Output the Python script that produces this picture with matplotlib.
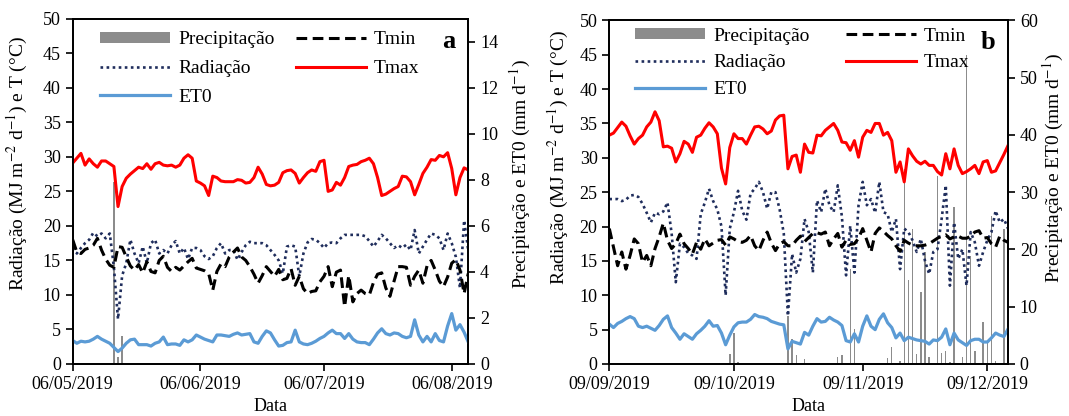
import matplotlib
matplotlib.use("Agg")
import matplotlib.pyplot as plt
import matplotlib.dates as mdates
import pandas as pd

plt.rcParams['font.family'] = ['Liberation Serif', 'DejaVu Serif']
plt.rcParams['mathtext.fontset'] = 'stix'

# ---- painel a: 06/05/2019 a 10/08/2019 ----
tmax_a = [29.1, 29.8, 30.5, 28.8, 29.7, 29.0, 28.5, 29.4, 29.4, 29.0, 28.6, 22.8, 25.7, 26.9, 27.5, 28.0,
          28.5, 28.3, 29.0, 28.2, 29.0, 29.2, 28.8, 28.7, 28.8, 28.5, 28.8, 29.8, 30.3, 29.8, 26.5, 26.2,
          25.8, 24.4, 27.2, 27.0, 26.5, 26.4, 26.4, 26.4, 26.7, 26.6, 26.2, 26.3, 27.0, 28.5, 27.5, 26.0,
          25.8, 25.9, 26.3, 27.7, 28.0, 28.1, 27.6, 26.2, 27.0, 27.7, 28.1, 27.9, 29.3, 29.5, 25.0, 25.2,
          26.3, 25.9, 27.0, 28.6, 28.8, 28.9, 29.3, 29.5, 29.8, 29.0, 27.0, 24.4, 24.6, 25.0, 25.4, 25.7,
          27.2, 27.1, 26.4, 24.5, 26.0, 27.6, 28.5, 29.6, 29.5, 30.2, 30.0, 30.6, 28.3, 24.5, 27.0, 28.4, 28.1]
tmin_a = [18.0, 16.2, 16.0, 16.6, 16.8, 17.2, 18.2, 16.5, 15.2, 14.3, 14.0, 17.0, 16.9, 15.5, 14.2, 13.6,
          14.4, 13.2, 14.8, 13.4, 13.2, 15.0, 15.6, 14.0, 13.4, 14.0, 13.6, 14.2, 14.8, 15.3, 13.9, 13.7,
          13.5, 13.1, 10.7, 13.4, 14.5, 14.1, 15.5, 16.2, 16.8, 15.5, 15.0, 14.1, 13.0, 11.7, 12.8, 14.1,
          13.4, 12.7, 13.7, 12.2, 12.4, 13.8, 11.4, 12.7, 10.9, 10.2, 10.5, 10.6, 11.9, 12.7, 14.1, 11.2,
          13.3, 13.6, 8.3, 12.8, 9.0, 10.2, 10.7, 10.2, 10.0, 11.8, 13.0, 13.2, 11.0, 9.8, 12.0, 14.1,
          14.1, 14.0, 11.4, 12.7, 13.6, 11.7, 14.2, 15.0, 13.6, 12.0, 11.2, 12.6, 14.6, 15.1, 13.6, 10.2, 13.1]
rad_a = [17.8, 16.0, 16.8, 17.5, 18.0, 19.0, 18.5, 18.9, 18.2, 18.9, 14.0, 6.5, 12.8, 14.6, 18.0, 16.0,
         14.6, 17.0, 14.6, 17.5, 18.0, 16.0, 16.5, 16.0, 17.2, 17.8, 16.0, 16.8, 15.2, 16.8, 16.8, 16.5,
         15.6, 15.2, 15.6, 16.8, 17.5, 16.0, 16.5, 16.5, 15.1, 16.2, 17.2, 17.7, 17.5, 17.5, 17.5, 17.2,
         16.5, 15.8, 15.0, 13.1, 17.0, 17.2, 17.0, 12.7, 16.0, 17.6, 18.1, 18.0, 17.5, 16.8, 17.5, 17.6,
         17.5, 18.2, 18.7, 18.7, 18.7, 18.7, 18.7, 18.5, 17.8, 17.0, 17.8, 18.7, 18.2, 17.5, 16.8, 17.2,
         16.8, 17.3, 16.5, 19.4, 16.0, 17.0, 18.0, 18.9, 18.7, 18.2, 16.5, 18.9, 17.5, 15.5, 11.0, 20.8, 16.5]
et0_a = [3.4, 3.0, 3.3, 3.2, 3.3, 3.6, 4.0, 3.6, 3.3, 3.0, 2.4, 1.8, 2.3, 3.0, 3.5, 3.6,
         2.8, 2.8, 2.8, 2.6, 3.0, 3.2, 3.9, 2.8, 2.9, 2.9, 2.7, 3.5, 3.2, 3.5, 4.2, 3.9,
         3.6, 3.4, 3.2, 4.2, 4.2, 4.1, 4.0, 4.3, 4.5, 4.2, 4.3, 4.4, 3.2, 3.0, 4.0, 4.8,
         4.5, 3.5, 2.6, 2.7, 3.1, 3.2, 4.9, 3.2, 2.9, 2.8, 3.0, 3.3, 3.7, 4.0, 4.5, 4.9,
         4.4, 4.4, 3.7, 4.4, 3.6, 3.2, 3.1, 3.1, 2.8, 3.6, 4.5, 5.1, 4.4, 4.2, 4.5, 4.4,
         4.0, 3.8, 4.0, 6.4, 4.2, 3.2, 4.0, 3.2, 4.4, 3.4, 3.2, 5.5, 7.3, 4.9, 5.7, 4.6, 3.2]
chuva_a_datas = ['2019-05-16', '2019-05-17', '2019-05-18']
chuva_a_mm = [7.9, 0.3, 1.2]

# ---- painel b: 09/09/2019 a 14/12/2019 ----
tmax_b = [33.3, 33.6, 34.4, 35.2, 34.6, 33.2, 32.0, 32.8, 33.3, 34.5, 35.2, 36.7, 35.4, 31.6, 31.7, 31.4,
          29.4, 30.6, 32.4, 32.0, 30.8, 33.0, 33.3, 34.3, 35.1, 34.5, 33.5, 28.5, 26.2, 31.5, 33.5, 32.8,
          32.8, 32.0, 33.3, 34.5, 34.6, 34.2, 33.5, 33.9, 35.5, 36.1, 36.2, 28.4, 30.2, 30.4, 27.9, 32.0,
          30.8, 30.7, 33.3, 33.2, 34.0, 34.5, 35.0, 34.0, 32.3, 32.2, 31.1, 32.5, 30.1, 33.0, 34.0, 33.7,
          35.0, 35.0, 33.3, 33.7, 32.5, 27.9, 29.4, 26.5, 31.3, 30.3, 29.5, 29.1, 29.5, 28.9, 28.9, 28.0,
          27.5, 30.6, 28.4, 31.3, 28.9, 27.7, 28.0, 28.4, 28.9, 27.7, 29.4, 29.6, 27.9, 28.1, 29.3, 30.5, 31.8]
tmin_b = [19.7, 17.0, 14.3, 16.3, 13.8, 15.8, 18.2, 17.5, 14.8, 15.8, 14.3, 16.8, 18.5, 20.5, 18.0, 16.8,
          17.5, 18.9, 17.5, 16.8, 16.0, 17.7, 16.7, 18.2, 17.2, 17.6, 18.0, 18.1, 17.3, 18.5, 18.2, 17.8,
          17.7, 18.0, 18.7, 17.2, 16.5, 18.0, 19.2, 17.6, 16.5, 17.5, 17.8, 17.2, 17.2, 18.0, 18.6, 17.8,
          18.4, 19.0, 19.1, 18.9, 19.2, 17.2, 18.2, 19.0, 17.0, 18.0, 17.4, 17.5, 18.3, 19.7, 18.0, 16.3,
          19.0, 19.8, 19.3, 18.7, 18.2, 17.2, 16.4, 18.0, 17.6, 17.3, 17.2, 17.2, 17.3, 17.5, 17.9, 18.3,
          18.6, 18.8, 18.2, 18.5, 18.6, 18.3, 18.3, 18.6, 19.2, 19.4, 18.3, 18.4, 17.5, 17.0, 18.6, 18.0, 17.7]
rad_b = [24.0, 24.0, 24.0, 23.7, 23.9, 24.5, 24.6, 24.3, 23.3, 22.0, 20.6, 22.0, 21.8, 22.2, 23.5, 19.0,
         11.9, 17.5, 17.0, 16.1, 15.8, 15.3, 21.8, 23.5, 25.5, 23.7, 22.5, 20.0, 10.0, 19.7, 22.1, 25.2,
         22.3, 21.0, 24.8, 25.5, 26.5, 25.0, 22.6, 25.0, 25.0, 22.5, 19.0, 7.0, 16.0, 13.3, 15.3, 21.1,
         19.2, 13.3, 23.8, 22.1, 25.5, 23.1, 22.1, 26.0, 21.4, 12.9, 20.1, 13.3, 23.1, 26.5, 23.1, 24.0,
         22.0, 26.5, 22.1, 21.8, 19.2, 21.1, 13.8, 19.7, 19.2, 18.0, 16.3, 18.2, 15.0, 13.1, 16.3, 16.7,
         21.1, 26.0, 11.4, 20.6, 15.3, 16.7, 11.4, 19.2, 17.7, 14.3, 16.3, 18.0, 19.2, 22.3, 20.6, 21.1, 19.7]
et0_b = [5.8, 5.3, 5.9, 6.2, 6.6, 6.9, 6.6, 5.5, 5.3, 5.5, 5.2, 4.9, 5.6, 6.5, 7.0, 5.3,
         4.5, 3.6, 4.4, 4.0, 3.6, 4.4, 4.9, 5.5, 6.3, 5.5, 5.6, 4.5, 2.8, 4.2, 5.4, 6.0,
         6.1, 6.1, 6.5, 7.2, 6.9, 6.8, 6.6, 6.2, 6.0, 5.8, 5.7, 2.2, 3.3, 3.1, 2.9, 4.6,
         4.2, 5.5, 6.6, 6.1, 6.2, 6.8, 6.4, 6.1, 5.6, 3.4, 3.2, 4.4, 3.2, 5.5, 7.0, 5.5,
         5.0, 6.5, 7.3, 6.0, 5.3, 3.8, 4.5, 3.4, 3.9, 3.7, 3.5, 3.4, 3.3, 2.9, 3.5, 3.4,
         3.9, 5.1, 2.8, 4.5, 3.5, 3.1, 2.7, 3.4, 3.6, 3.6, 3.2, 3.2, 3.8, 4.5, 4.2, 4.0, 5.1]
chuva_b_datas = ['2019-10-08', '2019-10-09', '2019-10-10', '2019-10-22', '2019-10-23', '2019-10-24',
                 '2019-10-26', '2019-11-03', '2019-11-04', '2019-11-06', '2019-11-07', '2019-11-15',
                 '2019-11-16', '2019-11-18', '2019-11-19', '2019-11-20', '2019-11-21', '2019-11-22',
                 '2019-11-23', '2019-11-24', '2019-11-25', '2019-11-27', '2019-11-28', '2019-11-29',
                 '2019-11-30', '2019-12-01', '2019-12-03', '2019-12-04', '2019-12-05', '2019-12-06',
                 '2019-12-08', '2019-12-09', '2019-12-10', '2019-12-11', '2019-12-13']
chuva_b_mm = [1.7, 5.5, 0.3, 8.4, 4.4, 1.5, 0.8, 1.2, 1.5, 16.6, 6.1, 1.0,
              3.0, 0.5, 34.0, 14.6, 23.6, 1.7, 12.5, 19.5, 1.2, 32.9, 2.0, 2.3,
              0.3, 27.4, 1.2, 53.9, 18.9, 2.3, 7.3, 4.0, 25.9, 0.5, 23.6]

ticks_a = ['2019-05-06', '2019-06-06', '2019-07-06', '2019-08-06']
ticks_b = ['2019-09-09', '2019-10-09', '2019-11-09', '2019-12-09']


def painel(pos, inicio, tmax, tmin, rad, et0, chuva_datas, chuva_mm, ticks,
           ymax2, passo2, letra, leg_xy, colsp, lsp, ylab_xy, ylab2_xy):
    dias = pd.date_range(inicio, periods=len(tmax), freq='D')
    ax = fig.add_axes(pos)
    ax2 = ax.twinx()
    barras = ax2.bar(pd.to_datetime(chuva_datas), chuva_mm, width=0.35, color='#8c8c8c')
    ax.set_zorder(ax2.get_zorder() + 1)
    ax.patch.set_visible(False)

    l_rad, = ax.plot(dias, rad, color='#1f2d5c', lw=1.9, ls=(0, (1, 1.3)))
    l_et0, = ax.plot(dias, et0, color='#5b9bd5', lw=2.3)
    l_tmin, = ax.plot(dias, tmin, color='black', lw=2.2, ls=(0, (3.5, 1.8)))
    l_tmax, = ax.plot(dias, tmax, color='#ff0000', lw=2.2)

    ax.set_xlim(dias[0], dias[-1])
    ax.set_ylim(0, 50)
    ax.set_yticks(range(0, 51, 5))
    ax2.set_ylim(0, ymax2)
    ax2.set_yticks(range(0, int(ymax2) + 1, passo2))
    ax.set_xticks(pd.to_datetime(ticks))
    ax.xaxis.set_major_formatter(mdates.DateFormatter('%d/%m/%Y'))
    for a in (ax, ax2):
        a.tick_params(labelsize=13, length=5, width=1.2, direction='out')
        for s in a.spines.values():
            s.set_linewidth(1.3)
    ax.set_xlabel('Data', fontsize=13, labelpad=4)
    ax.set_ylabel('Radiação (MJ m$^{-2}$ d$^{-1}$) e T (°C)', fontsize=14)
    ax2.set_ylabel('Precipitação e ET0 (mm d$^{-1}$)', fontsize=14)
    ax.yaxis.set_label_coords(*ylab_xy)
    ax2.yaxis.set_label_coords(*ylab2_xy)

    ax.legend([barras, l_rad, l_et0, l_tmin, l_tmax],
              ['Precipitação', 'Radiação', 'ET0', 'Tmin', 'Tmax'],
              ncol=2, frameon=False, fontsize=14, loc='upper left',
              bbox_to_anchor=leg_xy, borderaxespad=0, borderpad=0.2,
              handlelength=3.6, handleheight=0.5, handletextpad=0.4,
              columnspacing=colsp, labelspacing=lsp)
    ax.text(0.95, 0.935, letra, transform=ax.transAxes, fontsize=19,
            fontweight='bold', ha='center', va='center')


fig = plt.figure(figsize=(10.69, 4.16), dpi=100)
painel([0.068, 0.125, 0.370, 0.830], '2019-05-06', tmax_a, tmin_a, rad_a, et0_a,
       chuva_a_datas, chuva_a_mm, ticks_a, 15, 2, 'a', (0.06, 0.975), 1.1, 0.6,
       (-0.109, 0.58), (1.10, 0.55))
painel([0.570, 0.125, 0.373, 0.826], '2019-09-09', tmax_b, tmin_b, rad_b, et0_b,
       chuva_b_datas, chuva_b_mm, ticks_b, 60, 10, 'b', (0.055, 0.99), 1.9, 0.5,
       (-0.095, 0.60), (1.083, 0.57))

fig.savefig('out.png', dpi=100)
